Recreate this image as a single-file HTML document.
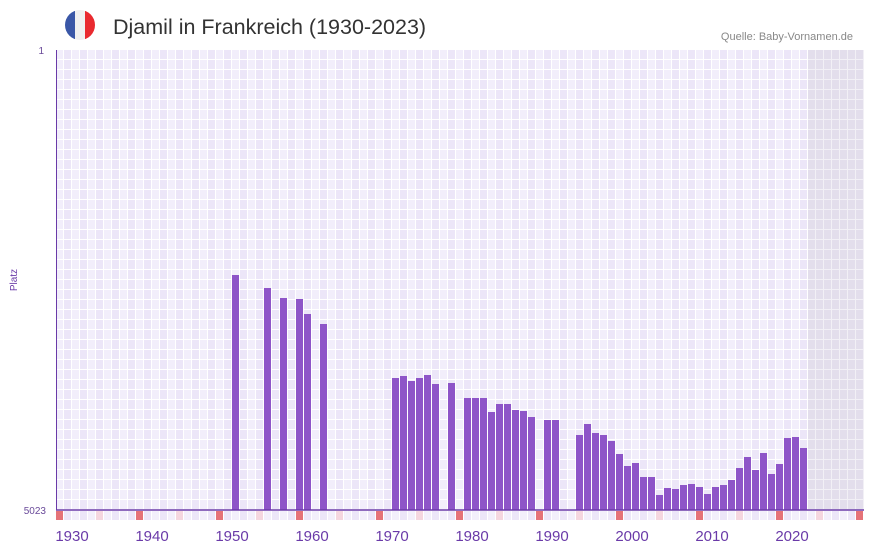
<!DOCTYPE html>
<html><head><meta charset="utf-8"><style>
body{margin:0;background:#fff;width:873px;height:552px;overflow:hidden;font-family:"Liberation Sans",sans-serif}
</style></head><body>
<svg width="873" height="552" xmlns="http://www.w3.org/2000/svg">
<defs>
<pattern id="g" x="56" y="50" width="16" height="10" patternUnits="userSpaceOnUse">
<rect width="16" height="10" fill="#fff"/>
<rect x="0" y="0" width="7" height="9" fill="#f2eefb"/>
<rect x="8" y="0" width="7" height="9" fill="#ece6f8"/>
</pattern>
<pattern id="s" x="56" y="50" width="8" height="10" patternUnits="userSpaceOnUse">
<rect width="8" height="10" fill="#f2f0f6"/>
<rect x="0" y="0" width="7" height="9" fill="#e3deec"/>
</pattern>
<pattern id="b" x="56" y="511" width="16" height="10" patternUnits="userSpaceOnUse">
<rect width="16" height="10" fill="#fff"/>
<rect x="0" y="0" width="7" height="9" fill="#f3effb"/>
<rect x="8" y="0" width="7" height="9" fill="#ece6f8"/>
</pattern>
<clipPath id="fc"><circle cx="80" cy="25" r="15"/></clipPath>
</defs>
<g clip-path="url(#fc)"><rect x="65" y="10" width="10" height="30" fill="#3a57a7"/><rect x="75" y="10" width="10" height="30" fill="#f0f0f0"/><rect x="85" y="10" width="10" height="30" fill="#e92a2f"/></g>
<text x="113" y="34" font-size="21.5" fill="#333">Djamil in Frankreich (1930-2023)</text>
<text x="853" y="40" font-size="11" fill="#888" text-anchor="end">Quelle: Baby-Vornamen.de</text>
<rect x="56" y="50" width="752" height="460" fill="url(#g)"/>
<rect x="808" y="50" width="56" height="460" fill="url(#s)"/>
<rect x="56" y="511" width="808" height="9" fill="url(#b)"/>
<g fill="#e57378">
<rect x="56" y="511" width="7" height="9"/><rect x="136" y="511" width="7" height="9"/><rect x="216" y="511" width="7" height="9"/><rect x="296" y="511" width="7" height="9"/><rect x="376" y="511" width="7" height="9"/><rect x="456" y="511" width="7" height="9"/><rect x="536" y="511" width="7" height="9"/><rect x="616" y="511" width="7" height="9"/><rect x="696" y="511" width="7" height="9"/><rect x="776" y="511" width="7" height="9"/><rect x="856" y="511" width="7" height="9"/>
</g>
<g fill="#f5d6df">
<rect x="96" y="511" width="7" height="9"/><rect x="176" y="511" width="7" height="9"/><rect x="256" y="511" width="7" height="9"/><rect x="336" y="511" width="7" height="9"/><rect x="416" y="511" width="7" height="9"/><rect x="496" y="511" width="7" height="9"/><rect x="576" y="511" width="7" height="9"/><rect x="656" y="511" width="7" height="9"/><rect x="736" y="511" width="7" height="9"/><rect x="816" y="511" width="7" height="9"/>
</g>
<g fill="#8e55c8">
<rect x="232" y="275" width="7" height="235"/>
<rect x="264" y="288" width="7" height="222"/>
<rect x="280" y="298" width="7" height="212"/>
<rect x="296" y="299" width="7" height="211"/>
<rect x="304" y="314" width="7" height="196"/>
<rect x="320" y="324" width="7" height="186"/>
<rect x="392" y="378" width="7" height="132"/>
<rect x="400" y="376" width="7" height="134"/>
<rect x="408" y="381" width="7" height="129"/>
<rect x="416" y="378" width="7" height="132"/>
<rect x="424" y="375" width="7" height="135"/>
<rect x="432" y="384" width="7" height="126"/>
<rect x="448" y="383" width="7" height="127"/>
<rect x="464" y="398" width="7" height="112"/>
<rect x="472" y="398" width="7" height="112"/>
<rect x="480" y="398" width="7" height="112"/>
<rect x="488" y="412" width="7" height="98"/>
<rect x="496" y="404" width="7" height="106"/>
<rect x="504" y="404" width="7" height="106"/>
<rect x="512" y="410" width="7" height="100"/>
<rect x="520" y="411" width="7" height="99"/>
<rect x="528" y="417" width="7" height="93"/>
<rect x="544" y="420" width="7" height="90"/>
<rect x="552" y="420" width="7" height="90"/>
<rect x="576" y="435" width="7" height="75"/>
<rect x="584" y="424" width="7" height="86"/>
<rect x="592" y="433" width="7" height="77"/>
<rect x="600" y="435" width="7" height="75"/>
<rect x="608" y="441" width="7" height="69"/>
<rect x="616" y="454" width="7" height="56"/>
<rect x="624" y="466" width="7" height="44"/>
<rect x="632" y="463" width="7" height="47"/>
<rect x="640" y="477" width="7" height="33"/>
<rect x="648" y="477" width="7" height="33"/>
<rect x="656" y="495" width="7" height="15"/>
<rect x="664" y="488" width="7" height="22"/>
<rect x="672" y="489" width="7" height="21"/>
<rect x="680" y="485" width="7" height="25"/>
<rect x="688" y="484" width="7" height="26"/>
<rect x="696" y="487" width="7" height="23"/>
<rect x="704" y="494" width="7" height="16"/>
<rect x="712" y="487" width="7" height="23"/>
<rect x="720" y="485" width="7" height="25"/>
<rect x="728" y="480" width="7" height="30"/>
<rect x="736" y="468" width="7" height="42"/>
<rect x="744" y="457" width="7" height="53"/>
<rect x="752" y="470" width="7" height="40"/>
<rect x="760" y="453" width="7" height="57"/>
<rect x="768" y="474" width="7" height="36"/>
<rect x="776" y="464" width="7" height="46"/>
<rect x="784" y="438" width="7" height="72"/>
<rect x="792" y="437" width="7" height="73"/>
<rect x="800" y="448" width="7" height="62"/>
</g>
<line x1="56" y1="510" x2="864" y2="510" stroke="#6a3aa8" stroke-width="1.5"/>
<line x1="56.5" y1="50" x2="56.5" y2="510" stroke="#6a3aa8" stroke-width="1"/>
<text x="44" y="54" font-size="10" fill="#6a4a9a" text-anchor="end">1</text>
<text x="46" y="514" font-size="10" fill="#6a4a9a" text-anchor="end">5023</text>
<text transform="translate(17,280) rotate(-90)" font-size="10" fill="#6a3aa8" text-anchor="middle">Platz</text>
<g font-size="15" fill="#6a3aa8" text-anchor="middle">
<text x="72" y="541">1930</text><text x="152" y="541">1940</text><text x="232" y="541">1950</text><text x="312" y="541">1960</text><text x="392" y="541">1970</text><text x="472" y="541">1980</text><text x="552" y="541">1990</text><text x="632" y="541">2000</text><text x="712" y="541">2010</text><text x="792" y="541">2020</text>
</g>
</svg>
</body></html>
